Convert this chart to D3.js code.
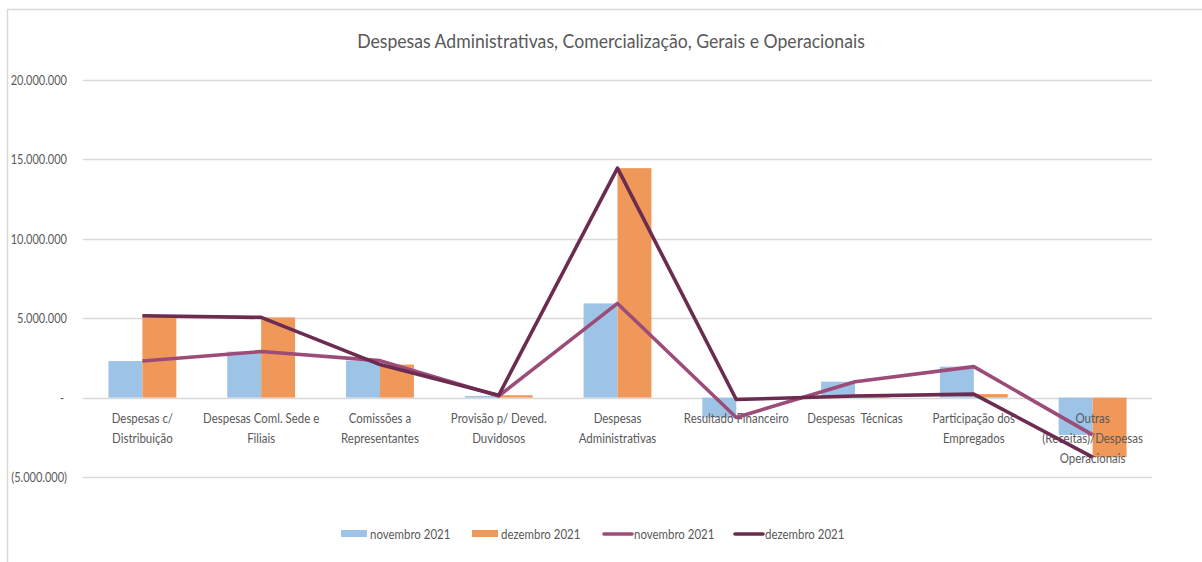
<!DOCTYPE html>
<html>
<head>
<meta charset="utf-8">
<script src="https://cdn.jsdelivr.net/npm/d3@7"></script>
<style>
  body { margin: 0; background: #fff; }
  text { font-family: Lato, "Open Sans", sans-serif; fill: #595959; }
</style>
</head>
<body>
<div id="chart"></div>
<script>
const categories = [
  ["Despesas c/", "Distribuição"],
  ["Despesas Coml. Sede e", "Filiais"],
  ["Comissões a", "Representantes"],
  ["Provisão p/ Deved.", "Duvidosos"],
  ["Despesas", "Administrativas"],
  ["Resultado Financeiro"],
  ["Despesas  Técnicas"],
  ["Participação dos", "Empregados"],
  ["Outras", "(Receitas)/Despesas", "Operacionais"],
];
const seriesNames = ["novembro 2021", "dezembro 2021"];
const novembro = [2300000, 2900000, 2330000, 100000, 5930000, -1250000, 1000000, 1950000, -2350000];
const dezembro = [5150000, 5050000, 2080000, 150000, 14450000, -120000, 100000, 220000, -3750000];
const yTicks = [-5000000, 0, 5000000, 10000000, 15000000, 20000000];

const barColors = ["#9dc3e6", "#f0985a"];
const lineColors = ["#9c4c78", "#6b2c4f"];

const width = 1202, height = 562;
const svg = d3.select("#chart").append("svg")
  .attr("width", width).attr("height", height);

// outer chart frame
svg.append("path")
  .attr("d", `M7.5,${height} V9.5 H${width}`)
  .attr("fill", "none").attr("stroke", "#d9d9d9").attr("stroke-width", 1.5);

// the reference text is horizontally squeezed, so every label is drawn with a scaleX
let sx = 1;
function label(g, x, y, str, size, anchor) {
  return g.append("text")
    .attr("transform", `translate(${x},${y}) scale(${sx},1)`)
    .attr("text-anchor", anchor || "start")
    .attr("xml:space", "preserve")
    .style("font-size", size + "px")
    .text(str);
}

const title = label(svg, 611, 48, "Despesas Administrativas, Comercialização, Gerais e Operacionais", 20, "middle");
sx = 508 / title.node().getComputedTextLength();
title.attr("transform", `translate(611,48) scale(${sx},1)`);

const yScale = d3.scaleLinear().domain([-5000000, 20000000]).range([477, 80]);
const x0 = d3.scaleBand().domain(d3.range(categories.length))
  .range([83, 1152]).paddingInner(0).paddingOuter(0);
const bw = x0.bandwidth();
const gap = bw * 0.75 / 3.5;
const x1 = d3.scaleBand().domain(d3.range(seriesNames.length)).range([gap, bw - gap]);

const fmt = (v) => {
  if (v === 0) return "-";
  const s = d3.format(",")(Math.abs(v)).replace(/,/g, ".");
  return v < 0 ? `(${s})` : s;
};

// gridlines + y labels
const grid = svg.append("g");
grid.selectAll("line").data(yTicks).join("line")
  .attr("x1", 83).attr("x2", 1152)
  .attr("y1", (d) => Math.round(yScale(d)) + 0.5)
  .attr("y2", (d) => Math.round(yScale(d)) + 0.5)
  .attr("stroke", "#d9d9d9").attr("stroke-width", 1.3);
yTicks.forEach((d) => {
  label(grid, d === 0 ? 64 : 67, yScale(d) + 5, fmt(d), 12.5, "end");
});

// bars
const seriesData = [novembro, dezembro];
seriesData.forEach((vals, si) => {
  svg.append("g").selectAll("rect").data(vals).join("rect")
    .attr("x", (d, i) => x0(i) + x1(si))
    .attr("width", x1.bandwidth())
    .attr("y", (d) => yScale(Math.max(0, d)))
    .attr("height", (d) => Math.abs(yScale(d) - yScale(0)))
    .attr("fill", barColors[si]);
});

// category labels
const catG = svg.append("g");
categories.forEach((lines, i) => {
  lines.forEach((ln, j) => {
    label(catG, x0(i) + bw / 2, 423 + j * 20, ln, 13, "middle");
  });
});

// lines
const line = d3.line()
  .x((d, i) => x0(i) + bw / 2)
  .y((d) => yScale(d));
seriesData.forEach((vals, si) => {
  svg.append("path")
    .datum(vals)
    .attr("d", line)
    .attr("fill", "none")
    .attr("stroke", lineColors[si])
    .attr("stroke-width", 3.6)
    .attr("stroke-linejoin", "round");
});

// legend
const legendItems = [
  { type: "bar", color: barColors[0], label: seriesNames[0], x: 341 },
  { type: "bar", color: barColors[1], label: seriesNames[1], x: 472 },
  { type: "line", color: lineColors[0], label: seriesNames[0], x: 603 },
  { type: "line", color: lineColors[1], label: seriesNames[1], x: 734 },
];
const legend = svg.append("g");
legendItems.forEach((it) => {
  const g = legend.append("g").attr("transform", `translate(${it.x},534)`);
  if (it.type === "bar") {
    g.append("rect").attr("x", 0).attr("y", -4).attr("width", 26).attr("height", 7).attr("fill", it.color);
  } else {
    g.append("line").attr("x1", 1).attr("x2", 29).attr("y1", 0).attr("y2", 0)
      .attr("stroke", it.color).attr("stroke-width", 3.6).attr("stroke-linecap", "round");
  }
  label(g, it.type === "bar" ? 29 : 31, 5, it.label, 13);
});
</script>
</body>
</html>
